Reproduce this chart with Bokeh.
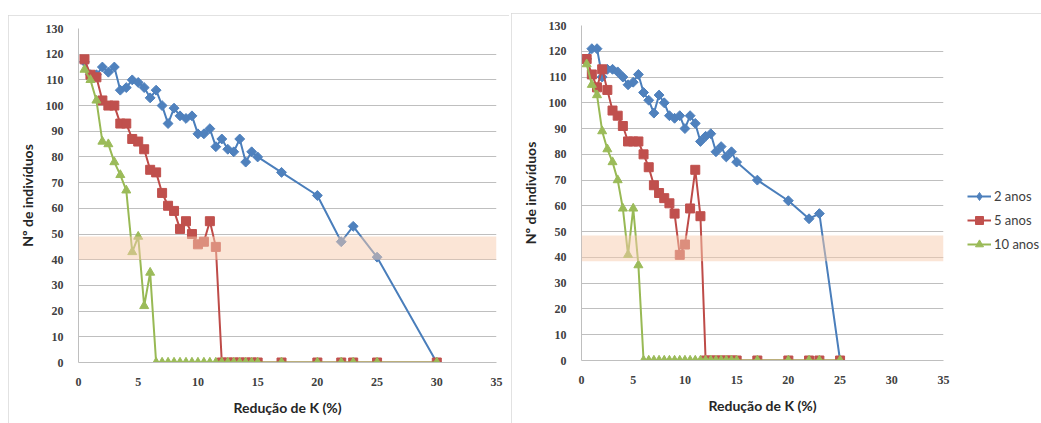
import math
from bokeh.plotting import figure
from bokeh.layouts import row, column
from bokeh.models import Spacer, Legend, LegendItem, BoxAnnotation, FixedTicker
from bokeh.embed import file_html
from bokeh.resources import INLINE

# K reduction (%) scenarios
x_left = [0.5, 1, 1.5, 2, 2.5, 3, 3.5, 4, 4.5, 5, 5.5, 6, 6.5, 7, 7.5, 8, 8.5, 9, 9.5, 10,
          10.5, 11, 11.5, 12, 12.5, 13, 13.5, 14, 14.5, 15, 17, 20, 22, 23, 25, 30]
x_right = [0.5, 1, 1.5, 2, 2.5, 3, 3.5, 4, 4.5, 5, 5.5, 6, 6.5, 7, 7.5, 8, 8.5, 9, 9.5, 10,
           10.5, 11, 11.5, 12, 12.5, 13, 13.5, 14, 14.5, 15, 17, 20, 22, 23, 25]

# Number of individuals - left panel
left_2 = [117, 112, 112, 115, 113, 115, 106, 107, 110, 109, 107, 103, 106, 100, 93, 99, 96, 95, 96, 89,
          89, 91, 84, 87, 83, 82, 87, 78, 82, 80, 74, 65, 47, 53, 41, 0]
left_5 = [118, 112, 111, 102, 100, 100, 93, 93, 87, 86, 83, 75, 74, 66, 61, 59, 52, 55, 50, 46,
          47, 55, 45, 0, 0, 0, 0, 0, 0, 0, 0, 0, 0, 0, 0, 0]
left_10 = [114, 110, 102, 86, 85, 78, 73, 67, 43, 49, 22, 35, 0, 0, 0, 0, 0, 0, 0, 0,
           0, 0, 0, 0, 0, 0, 0, 0, 0, 0, 0, 0, 0, 0, 0, 0]

# Number of individuals - right panel
right_2 = [117, 121, 121, 110, 113, 113, 112, 110, 107, 108, 111, 104, 101, 96, 103, 100, 95, 94, 95, 90,
           95, 92, 85, 87, 88, 81, 83, 79, 81, 77, 70, 62, 55, 57, 0]
right_5 = [117, 111, 106, 113, 105, 97, 95, 91, 85, 85, 85, 80, 75, 68, 65, 63, 61, 57, 41, 45,
           59, 74, 56, 0, 0, 0, 0, 0, 0, 0, 0, 0, 0, 0, 0]
right_10 = [115, 107, 103, 89, 82, 77, 70, 59, 41, 59, 37, 0, 0, 0, 0, 0, 0, 0, 0, 0,
            0, 0, 0, 0, 0, 0, 0, 0, 0, 0, 0, 0, 0, 0, 0]

series_names = ["2 anos", "5 anos", "10 anos"]
x_ticks = [0, 5, 10, 15, 20, 25, 30, 35]
y_ticks = [0, 10, 20, 30, 40, 50, 60, 70, 80, 90, 100, 110, 120, 130]

# critical population band
band_left = (40, 49)
band_right = (38.5, 48.5)

BLUE_LINE, BLUE = "#4A7EBB", "#4F81BD"
RED_LINE, RED = "#BE4B48", "#C0504D"
GREEN_LINE, GREEN = "#98B954", "#9BBB59"

TICK_FONT = "Liberation Serif"
TITLE_FONT = "Lato"
NAN = float("nan")


def make_panel(xs, ys2, ys5, ys10, band, fw, fh, bl, bt, br, bb):
    p = figure(frame_width=fw, frame_height=fh, x_range=(0, 35), y_range=(0, 130),
               output_backend="svg", toolbar_location=None,
               min_border_left=bl, min_border_top=bt, min_border_right=br, min_border_bottom=bb)
    p.background_fill_color = "white"
    p.border_fill_color = "white"
    p.outline_line_color = None

    p.xgrid.grid_line_color = None
    p.ygrid.grid_line_color = "#BFBFBF"
    p.ygrid.grid_line_width = 1
    p.ygrid.ticker = FixedTicker(ticks=y_ticks)

    p.xaxis.ticker = FixedTicker(ticks=x_ticks)
    p.yaxis.ticker = FixedTicker(ticks=y_ticks)
    for ax in (p.xaxis[0], p.yaxis[0]):
        ax.axis_line_color = "#BFBFBF"
        ax.major_tick_line_color = None
        ax.minor_tick_line_color = None
        ax.major_label_text_font = TICK_FONT
        ax.major_label_text_font_style = "bold"
        ax.major_label_text_font_size = "12px"
        ax.major_label_text_color = "#404040"
        ax.axis_label_text_font = TITLE_FONT
        ax.axis_label_text_font_style = "bold"
        ax.axis_label_text_font_size = "14px"
        ax.axis_label_text_color = "#262626"
    p.xaxis.major_label_standoff = 9
    p.yaxis.major_label_standoff = 9
    p.xaxis.axis_label = "Redução de K (%)"
    p.yaxis.axis_label = "Nº de indivíduos"
    p.xaxis.axis_label_standoff = 10
    p.yaxis.axis_label_standoff = 7

    r2l = p.line(xs, ys2, line_color=BLUE_LINE, line_width=2)
    # diamonds: squares turned by 45 degrees
    p.scatter(xs, ys2, marker="square", size=7, angle=math.pi / 4,
              fill_color=BLUE, line_color=BLUE)
    # legend swatch only (a single undrawn point)
    r2k = p.scatter([NAN], [NAN], marker="diamond", size=11, fill_color=BLUE, line_color=BLUE)
    r5l = p.line(xs, ys5, line_color=RED_LINE, line_width=2)
    r5m = p.scatter(xs, ys5, marker="square", size=9, fill_color=RED, line_color=RED)
    r10l = p.line(xs, ys10, line_color=GREEN_LINE, line_width=2)
    r10m = p.scatter(xs, ys10, marker="triangle", size=9, fill_color=GREEN, line_color=GREEN)

    p.add_layout(BoxAnnotation(bottom=band[0], top=band[1], fill_color="#F8CBAD",
                               fill_alpha=0.5, line_color=None, level="overlay"))
    return p, [(r2l, r2k), (r5l, r5m), (r10l, r10m)]


left, _ = make_panel(x_left, left_2, left_5, left_10, band_left,
                     fw=418, fh=334, bl=70, bt=13, br=13, bb=61)
right, rends = make_panel(x_right, right_2, right_5, right_10, band_right,
                          fw=362, fh=335, bl=70, bt=12, br=98, bb=63)

legend = Legend(
    items=[LegendItem(label=name, renderers=list(rs)) for name, rs in zip(series_names, rends)],
    location=(24, 106), orientation="vertical",
    padding=0, margin=0, spacing=4, glyph_width=24, glyph_height=20, label_height=20,
    label_standoff=3, label_text_font=TITLE_FONT, label_text_font_size="13px",
    label_text_color="#404040", background_fill_alpha=0, border_line_color=None,
)
right.add_layout(legend, "right")

for p in (left, right):
    p.styles = {"outline": "1px solid #D9D9D9", "outline-offset": "-1px"}

layout = row(
    Spacer(width=8, height=423),
    column(Spacer(width=501, height=15), left, spacing=0),
    Spacer(width=2, height=423),
    column(Spacer(width=530, height=13), right, spacing=0),
    spacing=0,
)

open("out.html", "w").write(file_html(layout, INLINE))
